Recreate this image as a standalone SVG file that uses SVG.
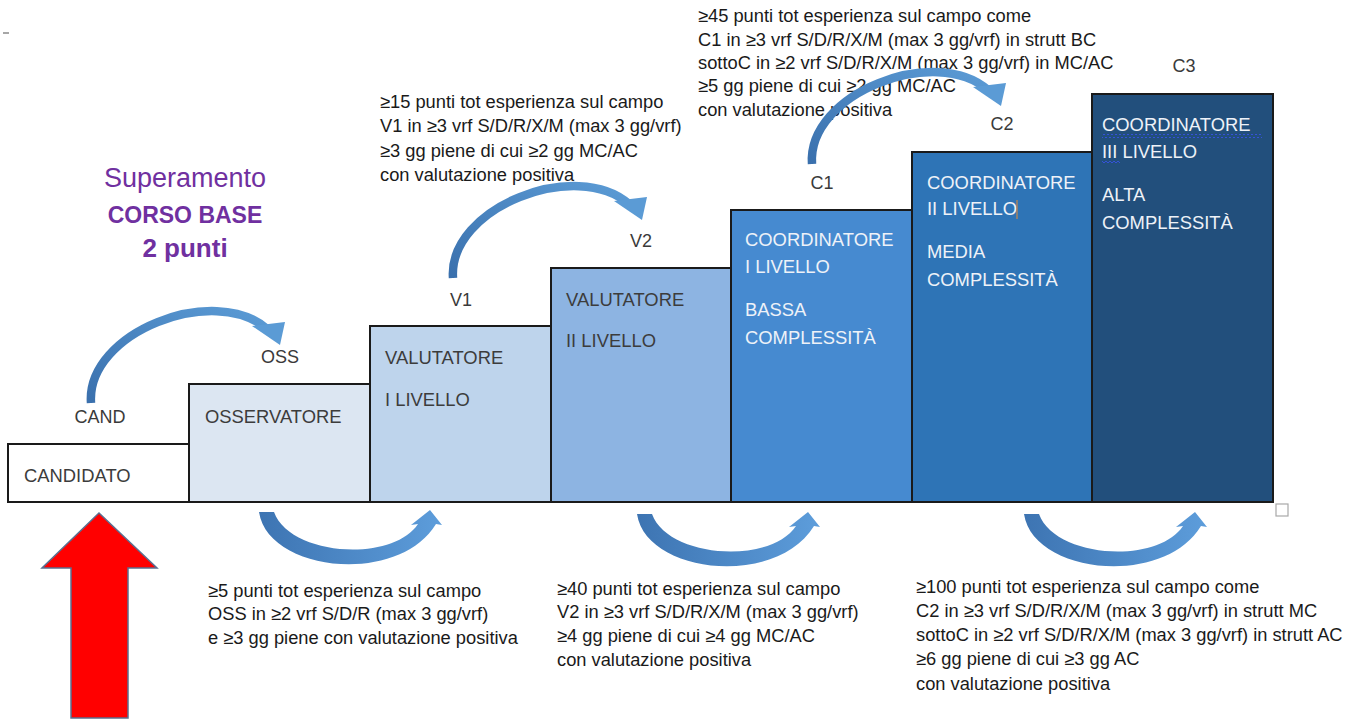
<svg xmlns="http://www.w3.org/2000/svg" width="1365" height="720" viewBox="0 0 1365 720">
<style>
  .box { stroke: #1a1a1a; stroke-width: 2; }
  .bt { font-family: "Liberation Sans", Arial, sans-serif; font-size: 18.4px; }
  .dk { fill: #3c3c3c; }
  .lt { fill: #eef2f8; }
  .lbl { font-family: "Liberation Sans", Arial, sans-serif; font-size: 18px; fill: #3a3a3a; text-anchor: middle; }
  .desc { font-family: "Liberation Sans", Arial, sans-serif; font-size: 18.3px; fill: #1a1a1a; }
  .purple { font-family: "Liberation Sans", Arial, sans-serif; fill: #7030a0; text-anchor: middle; }
</style>
<defs>
  <linearGradient id="gTop" x1="0" y1="1" x2="1" y2="0">
    <stop offset="0" stop-color="#3a70ad"/>
    <stop offset="1" stop-color="#5b9bd5"/>
  </linearGradient>
  <linearGradient id="gBot" x1="0" y1="0" x2="1" y2="0">
    <stop offset="0" stop-color="#3d74b2"/>
    <stop offset="1" stop-color="#5d9ddb"/>
  </linearGradient>
  <pattern id="wavy" width="4" height="4" patternUnits="userSpaceOnUse">
    <path d="M0 3 L2 1 L4 3" fill="none" stroke="#3552d8" stroke-width="1"/>
  </pattern>
  <g id="arcUp">
    <path d="M 91 403 C 86 332, 215 283, 267 329" fill="none" stroke="url(#gTop)" stroke-width="8.5"/>
    <polygon points="252,326 285,322 280,345" fill="#5b9bd5"/>
  </g>
  <path id="arcDown" d="M 259 512 C 268 572, 398 586, 436 524 L 442 525 L 430 510 L 411 525 L 418 524 C 392 563, 290 556, 274 512 Z" fill="url(#gBot)"/>
</defs>
<rect width="1365" height="720" fill="#ffffff"/>
<line x1="3" y1="33" x2="9" y2="33" stroke="#8a8a8a" stroke-width="1.5"/>

<g id="intro">
  <text class="purple" x="185" y="187" font-size="27">Superamento</text>
  <text class="purple" x="185" y="223" font-size="23" font-weight="bold">CORSO BASE</text>
  <text class="purple" x="185" y="257" font-size="26" font-weight="bold">2 punti</text>
</g>

<g id="candidato">
  <rect class="box" x="8" y="444" width="181" height="58" fill="#ffffff"/>
  <text class="bt dk" x="24" y="482">CANDIDATO</text>
  <text class="lbl" x="100" y="423">CAND</text>
</g>
<g id="osservatore">
  <rect class="box" x="189" y="384" width="181" height="118" fill="#dce6f2"/>
  <text class="bt dk" x="205" y="423">OSSERVATORE</text>
  <text class="lbl" x="280" y="363">OSS</text>
</g>
<g id="valutatore1">
  <rect class="box" x="370" y="326" width="181" height="176" fill="#bed4ec"/>
  <text class="bt dk" x="385" y="364">VALUTATORE</text>
  <text class="bt dk" x="385" y="406">I LIVELLO</text>
  <text class="lbl" x="461" y="306">V1</text>
</g>
<g id="valutatore2">
  <rect class="box" x="551" y="268" width="180" height="234" fill="#8db4e2"/>
  <text class="bt dk" x="566" y="306">VALUTATORE</text>
  <text class="bt dk" x="566" y="347">II LIVELLO</text>
  <text class="lbl" x="641" y="247">V2</text>
</g>
<g id="coordinatore1">
  <rect class="box" x="731" y="210" width="181" height="292" fill="#468ad0"/>
  <text class="bt lt" x="745" y="246">COORDINATORE</text>
  <text class="bt lt" x="745" y="273">I LIVELLO</text>
  <text class="bt lt" x="745" y="316">BASSA</text>
  <text class="bt lt" x="745" y="344">COMPLESSITÀ</text>
  <text class="lbl" x="822" y="189">C1</text>
</g>
<g id="coordinatore2">
  <rect class="box" x="912" y="152" width="180" height="350" fill="#2e74b6"/>
  <text class="bt lt" x="927" y="189">COORDINATORE</text>
  <text class="bt lt" x="927" y="215">II LIVELLO</text>
  <line x1="1017" y1="200" x2="1017" y2="219" stroke="#c8884a" stroke-width="1.2"/>
  <text class="bt lt" x="927" y="258">MEDIA</text>
  <text class="bt lt" x="927" y="286">COMPLESSITÀ</text>
  <text class="lbl" x="1002" y="130">C2</text>
</g>
<g id="coordinatore3">
  <rect class="box" x="1092" y="94" width="181" height="408" fill="#224f7c"/>
  <text class="bt lt" x="1102" y="131">COORDINATORE</text>
  <rect x="1102" y="134" width="160" height="4" fill="url(#wavy)"/>
  <text class="bt lt" x="1102" y="158">III LIVELLO</text>
  <rect x="1102" y="161" width="18" height="4" fill="url(#wavy)"/>
  <text class="bt lt" x="1102" y="201">ALTA</text>
  <text class="bt lt" x="1102" y="229">COMPLESSITÀ</text>
  <text class="lbl" x="1184" y="72">C3</text>
</g>

<rect x="1276" y="504" width="12" height="12" fill="none" stroke="#a8a8a8" stroke-width="1.2"/>

<g id="req-v1">
  <text class="desc" x="380" y="108">≥15 punti tot esperienza sul campo</text>
  <text class="desc" x="380" y="132">V1 in ≥3 vrf S/D/R/X/M (max 3 gg/vrf)</text>
  <text class="desc" x="380" y="157">≥3 gg piene di cui ≥2 gg MC/AC</text>
  <text class="desc" x="380" y="181">con valutazione positiva</text>
</g>
<g id="req-c1">
  <text class="desc" x="698" y="22">≥45 punti tot esperienza sul campo come</text>
  <text class="desc" x="698" y="46">C1 in ≥3 vrf S/D/R/X/M (max 3 gg/vrf) in strutt BC</text>
  <text class="desc" x="698" y="69">sottoC in ≥2 vrf S/D/R/X/M (max 3 gg/vrf) in MC/AC</text>
  <text class="desc" x="698" y="92">≥5 gg piene di cui ≥2 gg MC/AC</text>
  <text class="desc" x="698" y="116">con valutazione positiva</text>
</g>
<g id="req-oss">
  <text class="desc" x="208" y="597">≥5 punti tot esperienza sul campo</text>
  <text class="desc" x="208" y="620">OSS in ≥2 vrf S/D/R (max 3 gg/vrf)</text>
  <text class="desc" x="208" y="644">e ≥3 gg piene con valutazione positiva</text>
</g>
<g id="req-v2">
  <text class="desc" x="557" y="595">≥40 punti tot esperienza sul campo</text>
  <text class="desc" x="557" y="618">V2 in ≥3 vrf S/D/R/X/M (max 3 gg/vrf)</text>
  <text class="desc" x="557" y="642">≥4 gg piene di cui ≥4 gg MC/AC</text>
  <text class="desc" x="557" y="666">con valutazione positiva</text>
</g>
<g id="req-c2">
  <text class="desc" x="916" y="593">≥100 punti tot esperienza sul campo come</text>
  <text class="desc" x="916" y="617">C2 in ≥3 vrf S/D/R/X/M (max 3 gg/vrf) in strutt MC</text>
  <text class="desc" x="916" y="641">sottoC in ≥2 vrf S/D/R/X/M (max 3 gg/vrf) in strutt AC</text>
  <text class="desc" x="916" y="665">≥6 gg piene di cui ≥3 gg AC</text>
  <text class="desc" x="916" y="690">con valutazione positiva</text>
</g>

<g id="connectors">
  <use href="#arcUp"/>
  <use href="#arcUp" transform="translate(362,-125)"/>
  <use href="#arcUp" transform="translate(721,-239)"/>
  <use href="#arcDown"/>
  <use href="#arcDown" transform="translate(378,2)"/>
  <use href="#arcDown" transform="translate(765,2)"/>
  <polygon id="startArrow" points="99,513 157,568 128,568 128,718 71,718 71,568 42,568" fill="#ff0000" stroke="#5a6f90" stroke-width="1.5"/>
</g>
</svg>
